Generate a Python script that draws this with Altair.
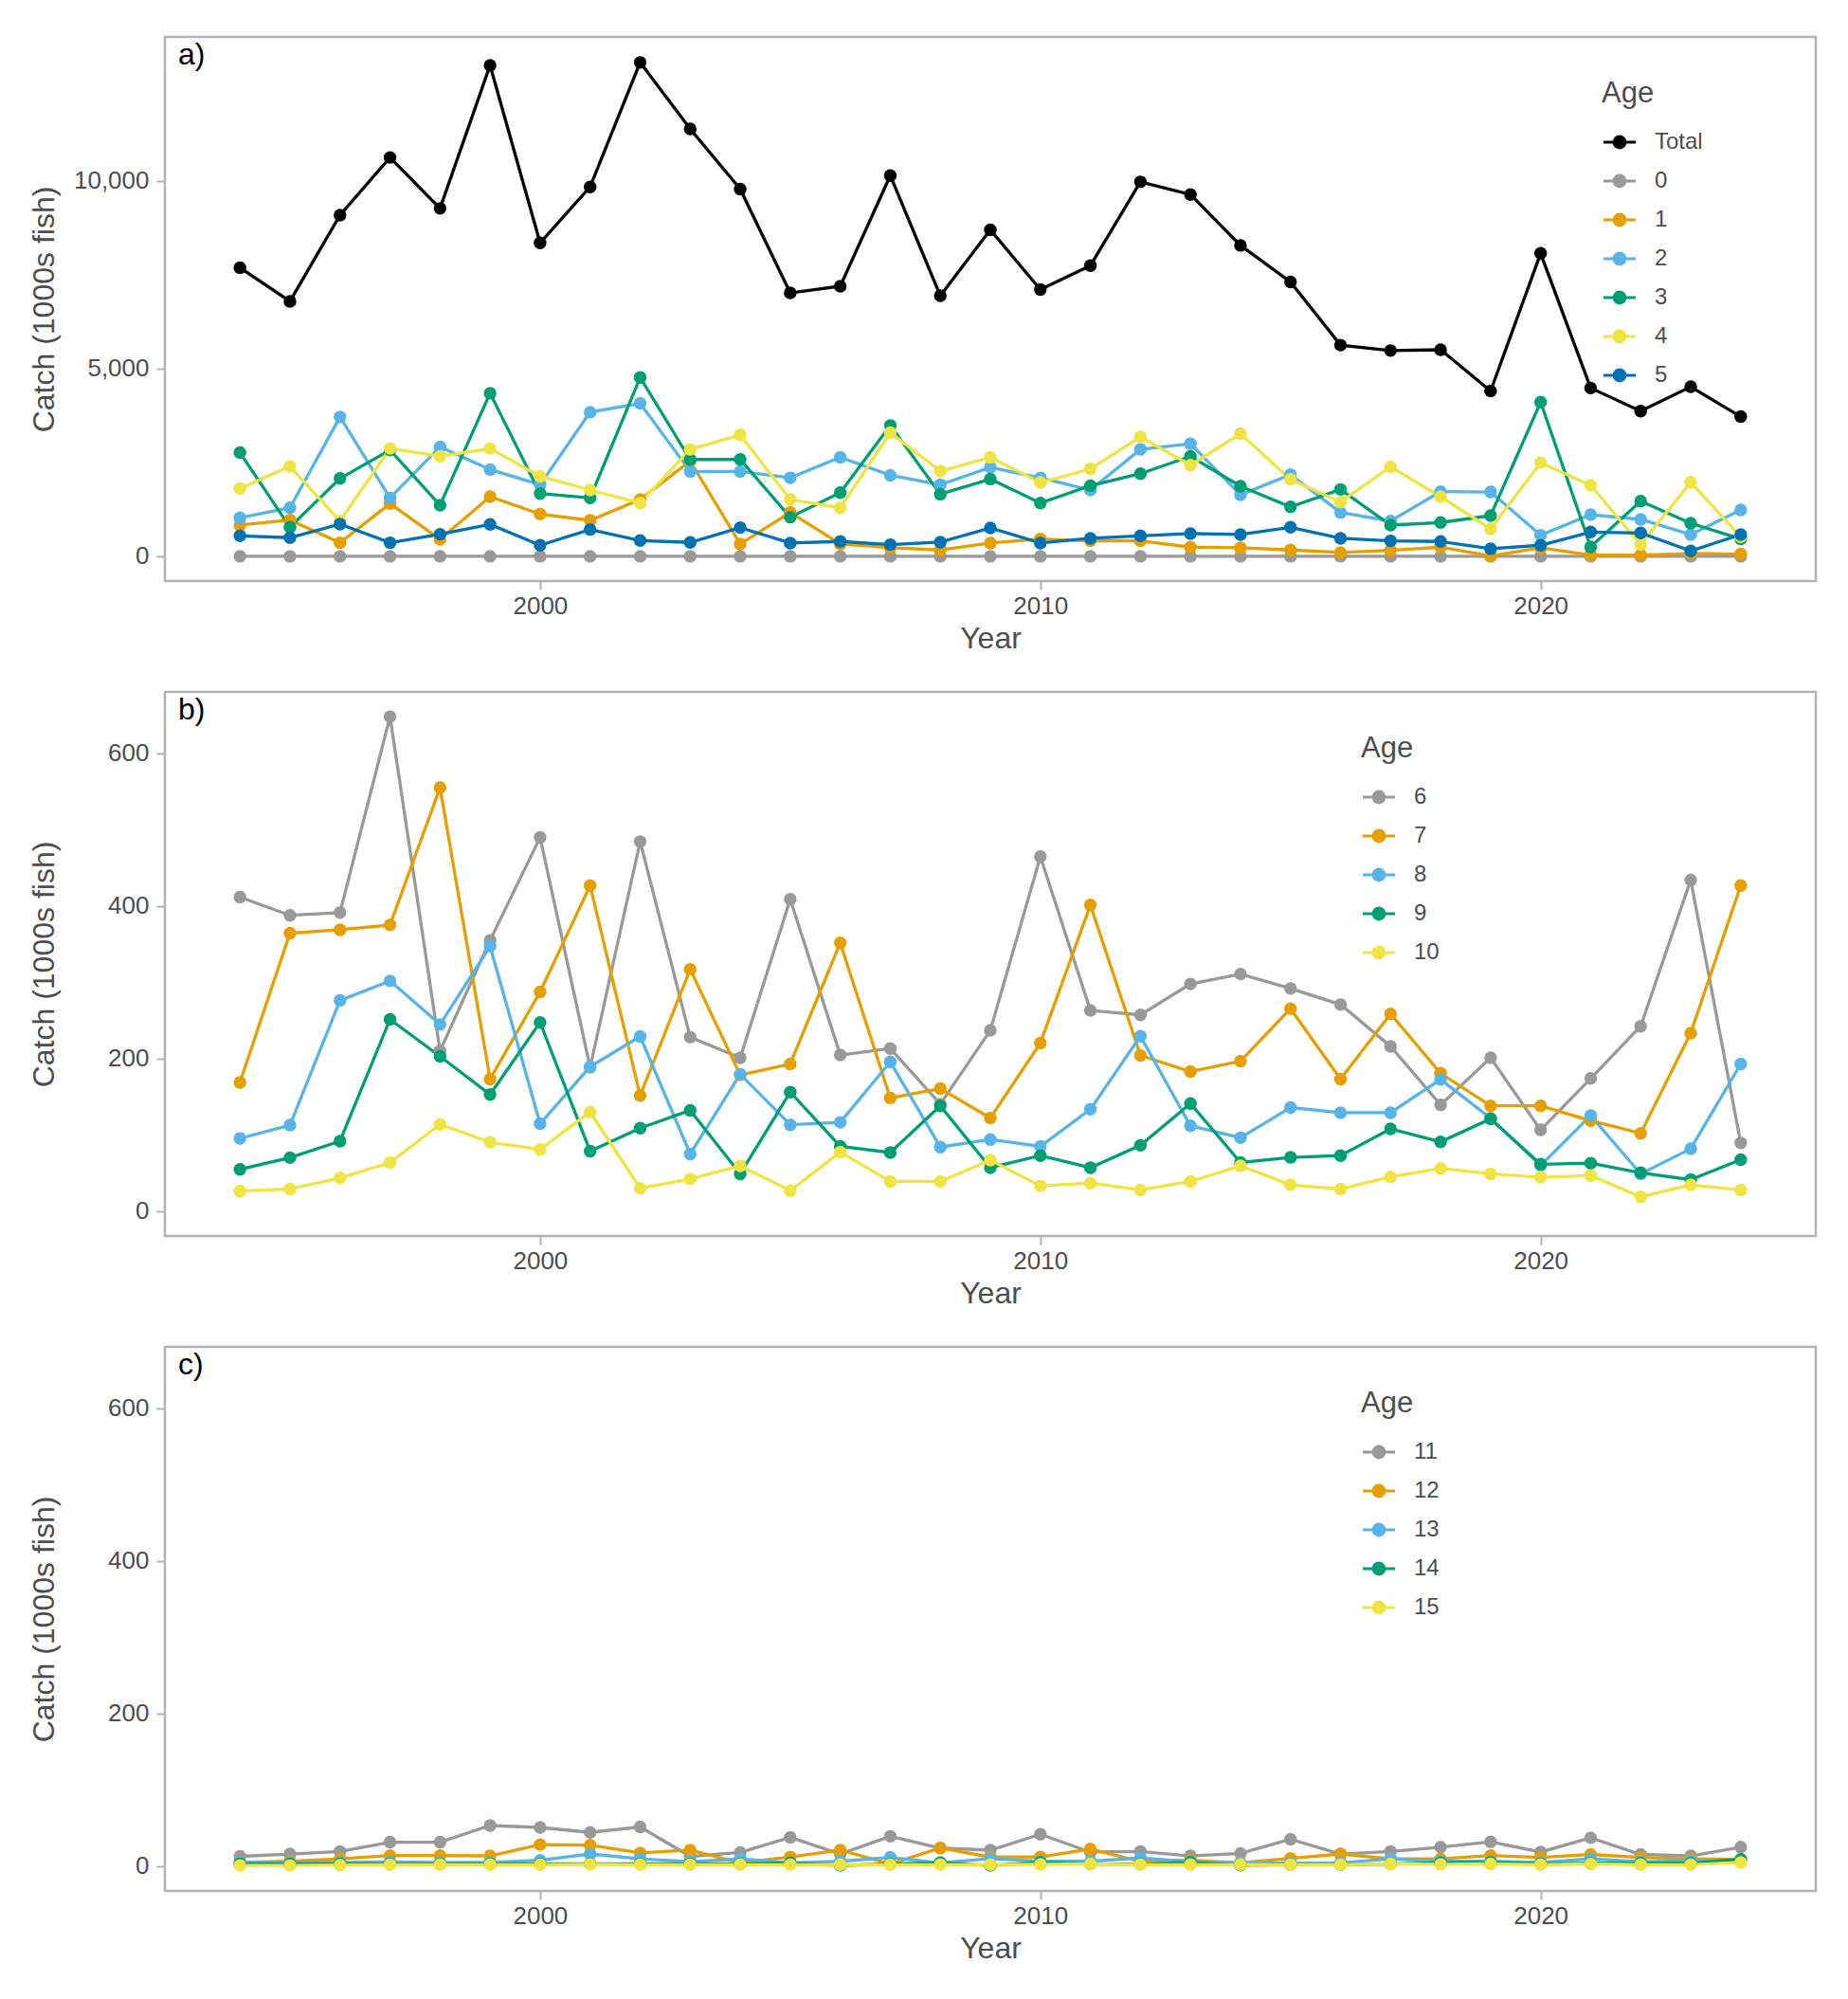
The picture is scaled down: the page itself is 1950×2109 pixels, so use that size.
import altair as alt
import pandas as pd

years = list(range(1994, 2025))

# Panel a) ages Total, 0-5 (1000s fish)
total = [7691, 6794, 9092, 10628, 9271, 13083, 8352, 9843, 13161, 11390, 9787, 7018, 7197, 10146, 6945,
         8700, 7108, 7747, 9978, 9641, 8285, 7309, 5628, 5482, 5504, 4406, 8072, 4484, 3868, 4518, 3722]
age0 = [0, 0, 0, 0, 0, 0, 0, 0, 0, 0, 0, 0, 0, 0, 0, 0, 0, 0, 0, 0, 0, 0, 0, 0, 0, 0, 0, 0, 0, 0, 0]
age1 = [832, 966, 361, 1403, 454, 1588, 1126, 958, 1513, 2538, 328, 1168, 328, 227, 168, 353,
        462, 412, 412, 244, 227, 168, 101, 160, 244, 10, 227, 34, 34, 76, 59]
age2 = [1025, 1294, 3714, 1555, 2916, 2311, 1908, 3840, 4076, 2261, 2261, 2092, 2639, 2160, 1908, 2370,
        2092, 1765, 2849, 3000, 1639, 2176, 1168, 941, 1723, 1714, 563, 1109, 983, 580, 1235]
age3 = [2765, 773, 2076, 2832, 1361, 4345, 1672, 1555, 4765, 2580, 2580, 1042, 1697, 3487, 1655, 2059,
        1420, 1882, 2202, 2664, 1866, 1319, 1782, 832, 899, 1084, 4109, 252, 1471, 882, 462]
age4 = [1807, 2395, 941, 2874, 2664, 2874, 2134, 1765, 1420, 2849, 3235, 1513, 1294, 3294, 2269, 2639,
        1966, 2328, 3185, 2429, 3269, 2050, 1445, 2387, 1588, 731, 2496, 1891, 311, 1975, 521]
age5 = [546, 496, 857, 361, 588, 849, 294, 714, 420, 370, 765, 353, 395, 311, 378, 756,
        353, 479, 546, 605, 580, 773, 479, 412, 395, 202, 294, 647, 622, 143, 580]

# Panel b) ages 6-10
age6 = [411.6, 387.7, 391.3, 648, 210, 354.9, 489.8, 188.5, 484.4, 228, 201, 408.9, 204.7, 213.2, 140.3, 237,
        464.6, 263.1, 257.3, 297.8, 310.8, 291.9, 270.8, 215.9, 139.4, 201, 106.6, 174, 242.4, 434, 89.5]
age7 = [168.7, 364.3, 368.8, 375.1, 555, 173.2, 287.4, 426.8, 151.6, 317, 178.6, 193, 351.7, 148.4, 160.6, 122.3,
        220.4, 401.2, 204.2, 183, 196.6, 265.4, 173.2, 258.6, 180.8, 138.1, 138.1, 118.7, 102.1, 233.4, 426.8]
age8 = [95.4, 112.9, 276.2, 301.8, 244.7, 347.2, 114.7, 189.4, 229, 75.1, 179.5, 113.3, 116.5, 195.7, 84.1, 94,
        85, 133.6, 229.4, 112, 96.3, 135.8, 129.1, 129.1, 172.7, 122, 60, 125.5, 49, 81.9, 193]
age9 = [54.9, 70.2, 91.8, 251.4, 202.9, 152.9, 247.4, 78.7, 108.8, 132.2, 49, 156.1, 85, 76.9, 138.1, 57.1,
        72.9, 57.1, 86.4, 141.2, 63.9, 70.6, 72.9, 108, 90.9, 121, 61.6, 63, 50.4, 41.4, 67.5]
age10 = [26.5, 29.2, 43.6, 63.9, 113.8, 90.4, 81, 130, 30.1, 42.3, 59.4, 27, 77.4, 39.1, 39.1, 67,
         33.3, 36.9, 27.9, 39.1, 59.4, 34.6, 29.2, 45, 56.2, 49, 44.5, 46.8, 18.9, 34.6, 27.9]

# Panel c) ages 11-15
age11 = [12.9, 16, 19.3, 31.5, 31.5, 53.3, 50.8, 44.3, 51.4, 12.9, 18, 37.9, 16, 39.2, 23.8, 21,
         41.8, 18.6, 19.3, 13.5, 16.7, 35.3, 16, 19.3, 25, 32, 18.6, 37.3, 15.4, 13.5, 25]
age12 = [5, 6.4, 9.6, 14, 14, 13.5, 28.3, 27.6, 17.4, 21.2, 4.5, 12.2, 21.2, 3, 23.8, 12,
         12.2, 22.5, 6.4, 7.7, 4.5, 10.3, 16, 9.6, 9.6, 14, 11.6, 15.4, 11.6, 9.6, 9]
age13 = [5, 5, 5, 5.5, 5, 5, 7.7, 16, 9.6, 5.8, 9.6, 4.5, 6.4, 11.6, 4.5, 10,
         6.4, 6.4, 11, 5.8, 3.9, 3.9, 4.5, 9.6, 6.4, 6.4, 5, 9.6, 5.8, 7, 8.4]
age14 = [3, 3, 3, 3, 3, 3, 3, 3, 3, 3, 3, 4.5, 1, 3, 4.5, 1,
         5, 3, 2.6, 5, 1.3, 2, 2, 3, 4.5, 5, 3, 3.9, 3.9, 3.9, 9]
age15 = [1, 1, 1.5, 2, 2, 2, 2, 2.5, 2, 2, 2, 2, 2, 2, 2, 2,
         2.5, 3, 2, 2, 2, 2, 2, 3, 2.5, 3, 2, 3, 2, 2, 5]

GRAY, ORANGE, SKY, GREEN, YELLOW, BLUE = "#999999", "#E69F00", "#56B4E9", "#009E73", "#F0E442", "#0072B2"

panel_a_names = ["Total", "0", "1", "2", "3", "4", "5"]
panel_a_series = [total, age0, age1, age2, age3, age4, age5]
panel_a_colors = ["#000000", GRAY, ORANGE, SKY, GREEN, YELLOW, BLUE]

panel_b_names = ["6", "7", "8", "9", "10"]
panel_b_series = [age6, age7, age8, age9, age10]
panel_c_names = ["11", "12", "13", "14", "15"]
panel_c_series = [age11, age12, age13, age14, age15]
bc_colors = [GRAY, ORANGE, SKY, GREEN, YELLOW]

W, H = 1742, 574
FONT = "Liberation Sans"
TXT = "#4D4D4D"


def to_long(names, series):
    rows = []
    for n, s in zip(names, series):
        for yr, v in zip(years, s):
            rows.append({"Year": yr, "Age": n, "Catch": v})
    return pd.DataFrame(rows)


def circles(rs):
    return " ".join(f"M{r},0 A{r},{r} 0 1,1 -{r},0 A{r},{r} 0 1,1 {r},0" for r in rs)


SYMBOL = "M-1,0 L1,0 " + circles([0.34, 0.25, 0.16, 0.07])


def panel(names, series, colors, ydom, yvals, yfmt, label, legx):
    df = to_long(names, series)
    base = alt.Chart(df)
    xenc = alt.X("Year:Q",
                 scale=alt.Scale(domain=[1992.5, 2025.5], nice=False, zero=False),
                 axis=alt.Axis(values=[2000, 2010, 2020], format="d", title="Year",
                               labelPadding=4, titlePadding=6))
    yenc = alt.Y("Catch:Q",
                 scale=alt.Scale(domain=ydom, nice=False, zero=False),
                 axis=alt.Axis(values=yvals, format=yfmt, title="Catch (1000s fish)",
                               labelPadding=8, titleX=-111, titleY=H / 2))
    cscale = alt.Scale(domain=names, range=colors)
    leg = alt.Legend(title="Age", orient="none", legendX=legx, legendY=45,
                     titleFont=FONT, titleFontSize=31, titleColor=TXT, titleFontWeight="normal",
                     titlePadding=16, labelFont=FONT, labelFontSize=24, labelColor=TXT,
                     symbolType=SYMBOL, symbolSize=1156, symbolStrokeWidth=3.2,
                     rowPadding=9, labelOffset=18, padding=0)
    lines = base.mark_line(strokeWidth=3.3).encode(
        x=xenc, y=yenc, color=alt.Color("Age:N", scale=cscale, legend=leg))
    points = base.mark_point(filled=True, size=180, opacity=1).encode(
        x=xenc, y=yenc, color=alt.Color("Age:N", scale=cscale, legend=None))
    txt = alt.Chart(pd.DataFrame({"t": [label]})).mark_text(
        align="left", baseline="top", font=FONT, fontSize=32, color="#000000"
    ).encode(x=alt.value(14), y=alt.value(4), text="t:N")
    return alt.layer(lines, points, txt).properties(width=W, height=H)


pa = panel(panel_a_names, panel_a_series, panel_a_colors, [-659, 13839], [0, 5000, 10000], ",.0f", "a)", 1516)
pb = panel(panel_b_names, panel_b_series, bc_colors, [-32.4, 680.4], [0, 200, 400, 600], "d", "b)", 1262)
pc = panel(panel_c_names, panel_c_series, bc_colors, [-32.4, 680.4], [0, 200, 400, 600], "d", "c)", 1262)

chart = alt.vconcat(pa, pb, pc, spacing=117, bounds="flush").resolve_scale(
    color="independent", x="independent", y="independent"
).properties(
    padding={"left": 20, "top": 29, "right": 10, "bottom": 10}
).configure_view(
    stroke="#B3B3B3", strokeWidth=2.5
).configure_axis(
    domain=False, grid=False, tickColor="#B3B3B3", tickWidth=2, tickSize=9,
    labelFont=FONT, labelFontSize=26, labelColor=TXT,
    titleFont=FONT, titleFontSize=32, titleColor=TXT, titleFontWeight="normal"
)

chart.save("out.html", embed_options={"renderer": "svg", "actions": False})
